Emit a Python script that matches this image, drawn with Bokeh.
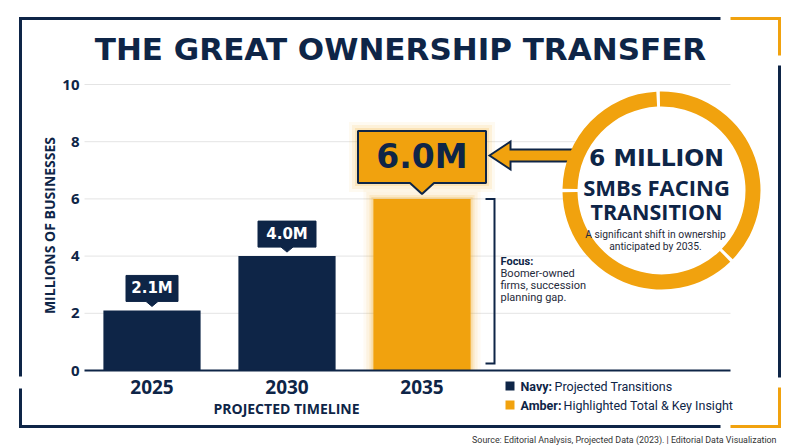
import math
from bokeh.plotting import figure
from bokeh.models import Range1d
from bokeh.core.properties import value
from bokeh.embed import file_html
from bokeh.resources import INLINE

# ---------------- data ----------------
years = ["2025", "2030", "2035"]
businesses_m = [2.1, 4.0, 6.0]
value_labels = ["2.1M", "4.0M", "6.0M"]
y_ticks = [0, 2, 4, 6, 8, 10]
y_tick_labels = ["0", "2", "4", "6", "8", "10"]
title_text = "THE GREAT OWNERSHIP TRANSFER"
y_title = "MILLIONS OF BUSINESSES"
x_title = "PROJECTED TIMELINE"
callout_lines = ["6 MILLION", "SMBs FACING", "TRANSITION"]
callout_sub = ["A significant shift in ownership", "anticipated by 2035."]
focus_head = "Focus:"
focus_lines = ["Boomer-owned", "firms, succession", "planning gap."]
legend_keys = ["Navy:", "Amber:"]
legend_texts = ["Projected Transitions", "Highlighted Total & Key Insight"]
source_text = "Source: Editorial Analysis, Projected Data (2023). | Editorial Data Visualization"

# ---------------- style ----------------
NAVY = "#0E2547"
AMBER = "#F1A20E"
GRID = "#E4E4E4"
W, H = 800, 447
OFF = 0                      # page offset of the canvas
X0_IMG, UX = 84, 135.0      # image x of data x=0, px per category
Y0_IMG, UY = 370, 28.6      # image y of data y=0, px per million
BAR_W = 0.72
GRID_END = (730 - X0_IMG) / UX
box_w = [52, 58, 128]

p = figure(width=W, height=H, output_backend="svg", toolbar_location=None,
           x_range=Range1d((OFF - X0_IMG) / UX, (OFF + W - X0_IMG) / UX),
           y_range=Range1d(-(OFF + H - Y0_IMG) / UY, (Y0_IMG - OFF) / UY),
           x_axis_type=None, y_axis_type=None, min_border=0,
           outline_line_color=None, background_fill_color="white",
           border_fill_color="white")
p.extra_x_ranges = {"px": Range1d(OFF, OFF + W)}
p.extra_y_ranges = {"py": Range1d(447 - (OFF + H), 447 - OFF)}
PX = dict(x_range_name="px", y_range_name="py")


def Y(v):
    if isinstance(v, (list, tuple)):
        return [447 - t for t in v]
    return 447 - v


def txt(x, y, s, size, font="Open Sans", bold=False, color=NAVY, align="center",
        baseline="middle", angle=0.0, **kw):
    p.text(x=[x], y=[Y(y)], text=[s], text_font=value(font),
           text_font_size=f"{size}px", text_font_style="bold" if bold else "normal",
           text_color=color, text_align=align, text_baseline=baseline, angle=angle,
           **PX, **kw)


# ---------------- frame ----------------
for xs_, ys_, c in [([20, 20, 720], [376, 18, 18], NAVY),
                    ([20, 20, 720], [388, 426, 426], NAVY),
                    ([779, 779], [65, 377], NAVY),
                    ([730, 779, 779], [18, 18, 55], AMBER),
                    ([779, 779, 730], [387, 426, 426], AMBER)]:
    p.line(x=xs_, y=Y(ys_), line_color=c, line_width=3, line_join="miter", **PX)

# title
txt(400, 48, title_text, 31, font="DejaVu Sans", bold=True)

# ---------------- axes (drawn through the data scales) ----------------
p.segment(x0=[0] * (len(y_ticks) - 1), y0=y_ticks[1:], x1=[GRID_END] * (len(y_ticks) - 1),
          y1=y_ticks[1:], line_color=GRID, line_width=1)
p.text(x=[-5 / UX] * len(y_ticks), y=y_ticks, text=y_tick_labels, text_font=value("Open Sans"),
       text_font_style="bold", text_font_size="15px", text_color=NAVY,
       text_align="right", text_baseline="middle")
txt(49, 225, y_title, 14, bold=True, angle=math.pi / 2)

xs = [i + 0.5 for i in range(len(years))]
p.text(x=xs, y=[-16 / UY] * len(xs), text=years, text_font=value("Open Sans"),
       text_font_style="bold", text_font_size="19px", text_color=NAVY,
       text_align="center", text_baseline="middle")
txt(286, 408, x_title, 14, bold=True)

# ---------------- bars ----------------
hi = businesses_m.index(max(businesses_m))
for pad, a in [(10, 0.05), (7, 0.08), (4, 0.12), (2, 0.18)]:
    p.vbar(x=[xs[hi]], width=BAR_W + 2 * pad / UX, top=[businesses_m[hi] + pad / UY],
           bottom=0, fill_color=AMBER, fill_alpha=a, line_color=None)
colors = [AMBER if i == hi else NAVY for i in range(len(years))]
p.vbar(x=xs, width=BAR_W, top=businesses_m, bottom=0, fill_color=colors, line_color=None)
p.segment(x0=[0], y0=[0], x1=[GRID_END], y1=[0], line_color=NAVY, line_width=2)

# ---------------- value callouts ----------------
for i, (cx, v, lab) in enumerate(zip(xs, businesses_m, value_labels)):
    if i == hi:
        gap, ph, pw, bh = 5, 11, 12, 52
    else:
        gap, ph, pw, bh = 4, 5, 6, 26
    bw = box_w[i]
    pts = [(0, gap), (pw, gap + ph), (bw / 2, gap + ph), (bw / 2, gap + ph + bh),
           (-bw / 2, gap + ph + bh), (-bw / 2, gap + ph), (-pw, gap + ph)]
    px_ = [cx + dx / UX for dx, dy in pts]
    py_ = [v + dy / UY for dx, dy in pts]
    cy = v + (gap + ph + bh / 2) / UY
    if i == hi:
        for pad, a in [(9, 0.06), (6, 0.1), (3, 0.16)]:
            p.rect(x=[cx], y=[cy], width=bw + 2 * pad, height=bh + 2 * pad,
                   width_units="screen", height_units="screen",
                   fill_color=AMBER, fill_alpha=a, line_color=None)
        p.patch(x=px_, y=py_, fill_color=AMBER, line_color=NAVY, line_width=2)
        p.text(x=[cx], y=[cy], text=[lab], text_font=value("DejaVu Sans"),
               text_font_style="bold", text_font_size="33px", text_color=NAVY,
               text_align="center", text_baseline="middle")
    else:
        p.patch(x=px_, y=py_, fill_color=NAVY, line_color=NAVY, line_width=1)
        p.text(x=[cx], y=[cy], text=[lab], text_font=value("DejaVu Sans"),
               text_font_style="bold", text_font_size="15px", text_color="white",
               text_align="center", text_baseline="middle")

# focus bracket (from top of highlighted bar down to the base)
bx0, bx1 = (485 - X0_IMG) / UX, (494 - X0_IMG) / UX
btop, bbot = businesses_m[hi], (Y0_IMG - 363) / UY
p.line(x=[bx0, bx1, bx1, bx0], y=[btop, btop, bbot, bbot], line_color=NAVY,
       line_width=2, line_join="miter")
txt(500, 261, focus_head, 11, font="Roboto", bold=True, align="left")
for k, ln in enumerate(focus_lines):
    txt(500, 272.5 + 12 * k, ln, 11, font="Roboto", color="#1F2A3A", align="left")

# ---------------- circle callout ----------------
CX, CY = 661, 190
p.circle(x=[CX], y=[Y(CY)], radius=99, radius_units="screen", fill_color="white",
         line_color=None, **PX)
arrow = [(489, 155), (510, 141), (510, 149), (576, 149), (576, 161), (510, 161), (510, 169)]
p.patch(x=[a for a, b in arrow], y=[Y(b) for a, b in arrow], fill_color=AMBER,
        line_color=NAVY, line_width=2, line_join="miter", **PX)
arcs = [(93, 179), (181, 314), (316, 451)]
p.annular_wedge(x=[CX] * 3, y=[Y(CY)] * 3, inner_radius=84, outer_radius=99,
                inner_radius_units="screen", outer_radius_units="screen",
                start_angle=[math.radians(a) for a, b in arcs],
                end_angle=[math.radians(b) for a, b in arcs],
                fill_color=AMBER, line_color=None, **PX)
txt(656, 157, callout_lines[0], 23.5, font="DejaVu Sans", bold=True)
txt(656, 186, callout_lines[1], 22, bold=True)
txt(656, 211, callout_lines[2], 21.5, bold=True)
txt(655, 234, callout_sub[0], 10.3, font="Roboto", color="#1F2A3A")
txt(655, 246, callout_sub[1], 10.3, font="Roboto", color="#1F2A3A")

# ---------------- legend ----------------
p.rect(x=[509.5, 509.5], y=Y([385.5, 404.5]), width=9, height=9,
       fill_color=[NAVY, AMBER], line_color=None, **PX)
for k, (key, t, tx) in enumerate(zip(legend_keys, legend_texts, [554, 563])):
    yy = 385.5 + 19 * k
    txt(520, yy, key, 12.5, font="Roboto", bold=True, align="left")
    txt(tx, yy, t, 12.5, font="Roboto", align="left")

# source
txt(776, 439, source_text, 8.9, font="Roboto", color="#333333", align="right")

open("out.html", "w").write(file_html(p, INLINE))
